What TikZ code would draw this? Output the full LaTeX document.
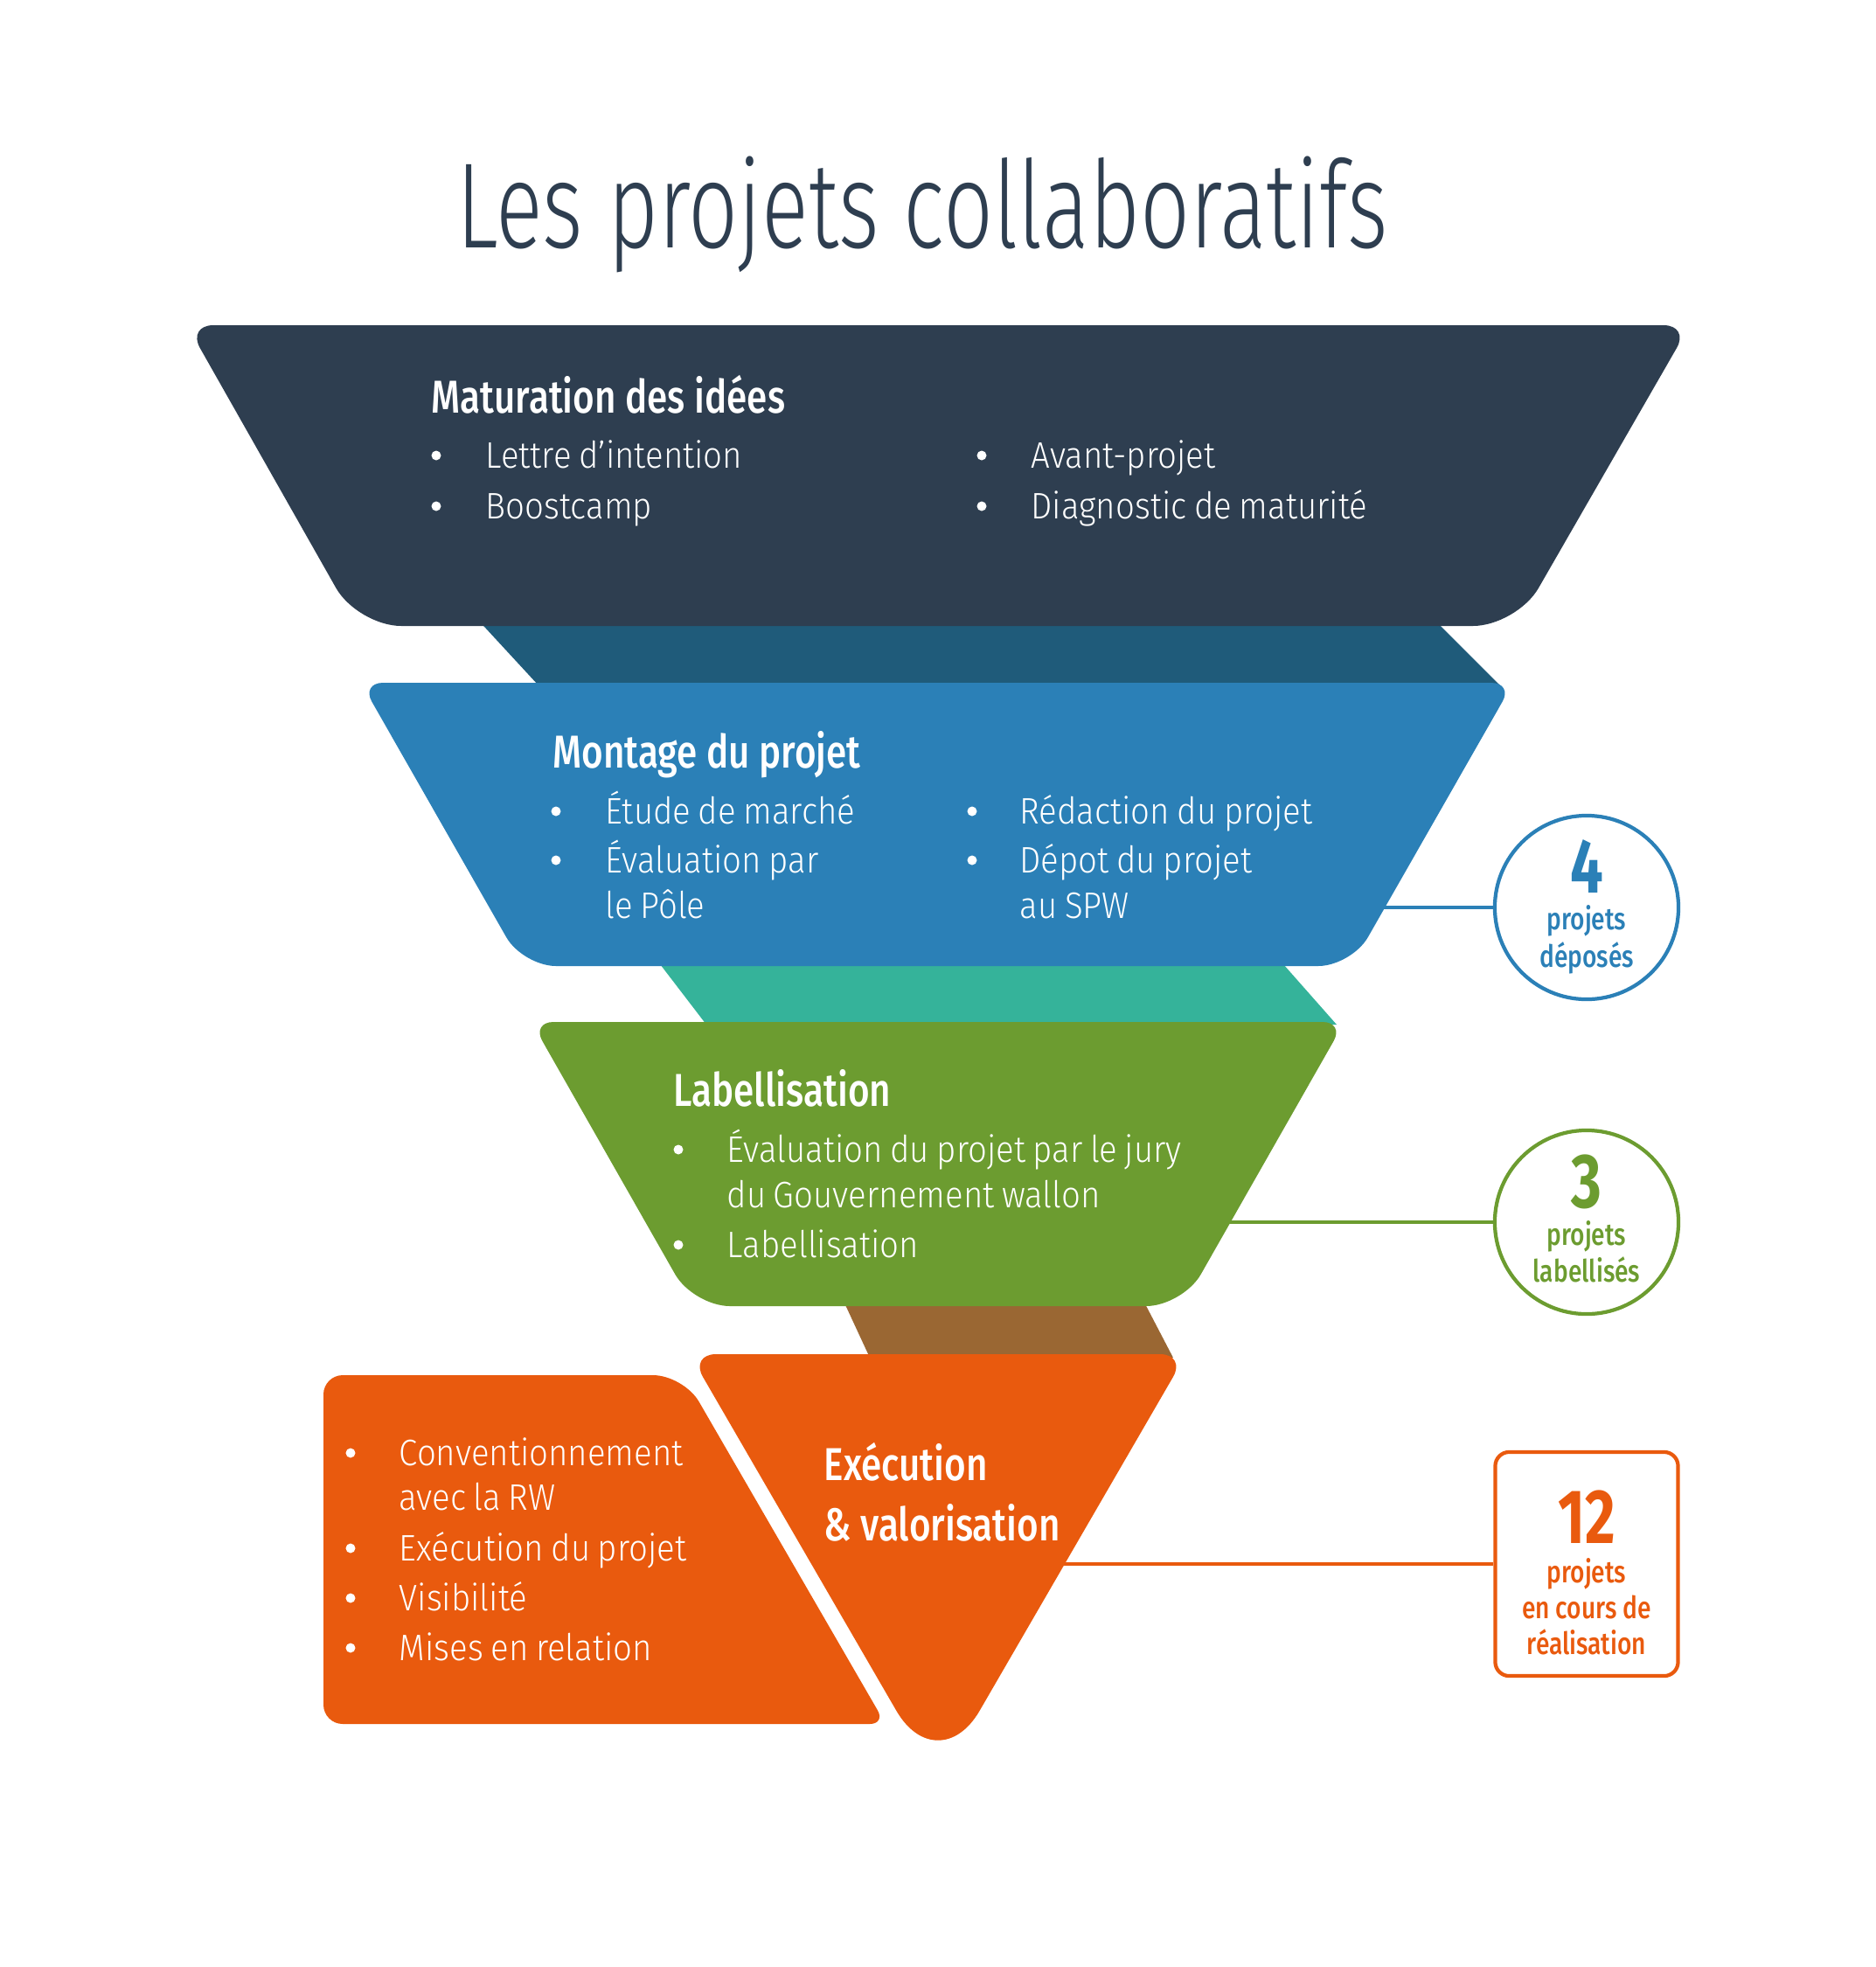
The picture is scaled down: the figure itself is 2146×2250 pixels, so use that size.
\documentclass[tikz,border=0pt]{standalone}
\usepackage{fontspec}
\setmainfont{Fira Sans Light}[FakeStretch=0.91, WordSpace=0.8]
\newfontfamily\titlefont{Fira Sans Light}[FakeStretch=0.72]
\newfontfamily\headfont{Fira Sans Medium}[FakeStretch=0.8]
\newfontfamily\numfont{Fira Sans Bold}[FakeStretch=0.76]
\usetikzlibrary{calc, positioning}

\definecolor{navy}{HTML}{2E3E50}
\definecolor{deepteal}{HTML}{1F5B7A}
\definecolor{stepblue}{HTML}{2B80B7}
\definecolor{teal}{HTML}{35B39A}
\definecolor{stepgreen}{HTML}{6C9C30}
\definecolor{brown}{HTML}{9A6733}
\definecolor{steporange}{HTML}{E95A0E}

\tikzstyle{bodytext} = [anchor=base west, inner sep=0pt, text=white,
    font=\fontsize{12}{14}\selectfont]
\tikzstyle{headtext} = [anchor=base west, inner sep=0pt, text=white,
    font=\headfont\fontsize{15}{18}\selectfont]
\tikzstyle{bulletdot} = [circle, fill=white, inner sep=0pt, minimum size=0.11cm]
\tikzstyle{statcircle} = [circle, draw, line width=1.2pt, minimum size=2.1cm, inner sep=0pt]
\tikzstyle{statbox} = [rectangle, rounded corners=0.16cm, draw, line width=1.2pt,
    minimum width=2.09cm, minimum height=2.56cm, inner sep=0pt]
\tikzstyle{statnum} = [anchor=base, inner sep=0pt, font=\numfont\fontsize{25}{30}\selectfont]
\tikzstyle{statlabel} = [anchor=base, inner sep=0pt, font=\headfont\fontsize{10}{12}\selectfont]
\tikzstyle{link} = [line width=1pt]

% rounded corner at #2, coming from #1, going on to #3, inset #4
\newcommand{\rndcorner}[4]{-- ($(#2)!#4!(#1)$)
    .. controls ($(#2)!0.45*#4!(#1)$) and ($(#2)!0.45*#4!(#3)$) .. ($(#2)!#4!(#3)$)}
% colour, top y, top left x, top right x, bottom y, bottom left x, bottom right x, insets
\newcommand{\funnelpiece}[9]{%
    \coordinate (tl) at (#3,#2); \coordinate (tr) at (#4,#2);
    \coordinate (br) at (#7,#5); \coordinate (bl) at (#6,#5);
    \fill[#1] ($(tl)!0.5!(bl)$) \rndcorner{bl}{tl}{tr}{#8} \rndcorner{tl}{tr}{br}{#8}
        \rndcorner{tr}{br}{bl}{#9} \rndcorner{br}{bl}{tl}{#9} -- cycle;}

\begin{document}
\begin{tikzpicture}[x=0.01cm, y=-0.01cm]
    \useasboundingbox (0,0) rectangle (2146,2250);
    % Title
    \node[anchor=base, inner sep=0pt, text=navy, font=\titlefont\fontsize{39.5}{44}\selectfont]
        (title) at (1055,283) {Les projets collaboratifs};

    % Necks between the steps
    \fill[deepteal] (544,706) -- (1638,706) -- (1716,784) -- (616,784) -- cycle;
    \fill[teal] (749,1095) -- (1461,1095) -- (1529,1172) -- (808,1172) -- cycle;
    \fill[brown] (963,1484) -- (1306,1484) -- (1342,1553) -- (995,1553) -- cycle;

    % Steps
    \funnelpiece{navy}{372}{214}{1933}{716}{409}{1735}{0.3cm}{0.5cm}
    \funnelpiece{stepblue}{781}{413}{1731}{1105}{598}{1546}{0.25cm}{0.38cm}
    \funnelpiece{stepgreen}{1169}{608}{1538}{1494}{793}{1353}{0.25cm}{0.42cm}
    \coordinate (xtl) at (789,1549); \coordinate (xtr) at (1357,1549);
    \coordinate (xtip) at (1073,2039);
    \fill[steporange] ($(xtl)!0.5!(xtip)$) \rndcorner{xtip}{xtl}{xtr}{0.3cm}
        \rndcorner{xtl}{xtr}{xtip}{0.3cm} \rndcorner{xtr}{xtip}{xtl}{0.95cm} -- cycle;
    \coordinate (ptl) at (370,1573); \coordinate (ptr) at (782,1573);
    \coordinate (pbr) at (1013,1972); \coordinate (pbl) at (370,1972);
    \fill[steporange] ($(ptl)!0.5!(pbl)$) \rndcorner{pbl}{ptl}{ptr}{0.22cm}
        \rndcorner{ptl}{ptr}{pbr}{0.35cm} \rndcorner{ptr}{pbr}{pbl}{0.18cm}
        \rndcorner{pbr}{pbl}{ptl}{0.22cm} -- cycle;

    % Maturation des idees
    \node[headtext] (maturation) at (493,472) {Maturation des idées};
    \node[bulletdot] at (499,521) {};
    \node[bodytext] (lettre) at (555,535) {Lettre d’intention};
    \node[bulletdot] at (499,579) {};
    \node[bodytext] (boost) at (555,593) {Boostcamp};
    \node[bulletdot] at (1123,521) {};
    \node[bodytext] (avant) at (1179,535) {Avant-projet};
    \node[bulletdot] at (1123,579) {};
    \node[bodytext] (diag) at (1179,593) {Diagnostic de maturité};

    % Montage du projet
    \node[headtext] (montage) at (632,878) {Montage du projet};
    \node[bulletdot] at (636,928) {};
    \node[bodytext] (etude) at (692,942) {Étude de marché};
    \node[bulletdot] at (636,984) {};
    \node[bodytext] (evalpole) at (692,998) {Évaluation par};
    \node[bodytext] (pole) at (692,1050) {le Pôle};
    \node[bulletdot] at (1112,928) {};
    \node[bodytext] (redac) at (1166,942) {Rédaction du projet};
    \node[bulletdot] at (1112,984) {};
    \node[bodytext] (depot) at (1166,998) {Dépot du projet};
    \node[bodytext] (spw) at (1166,1050) {au SPW};

    % Labellisation
    \node[headtext] (label) at (770,1265) {Labellisation};
    \node[bulletdot] at (776,1315) {};
    \node[bodytext] (jury) at (831,1329) {Évaluation du projet par le jury};
    \node[bodytext] (gouv) at (831,1381) {du Gouvernement wallon};
    \node[bulletdot] at (776,1424) {};
    \node[bodytext] (labelitem) at (831,1438) {Labellisation};

    % Execution & valorisation
    \node[headtext] (exec) at (942,1693) {Exécution};
    \node[headtext] (valo) at (942,1762) {\& valorisation};
    \node[bulletdot] at (401,1662) {};
    \node[bodytext] (conv) at (456,1676) {Conventionnement};
    \node[bodytext] (rw) at (456,1727) {avec la RW};
    \node[bulletdot] at (401,1771) {};
    \node[bodytext] (execitem) at (456,1785) {Exécution du projet};
    \node[bulletdot] at (401,1828) {};
    \node[bodytext] (visib) at (456,1842) {Visibilité};
    \node[bulletdot] at (401,1885) {};
    \node[bodytext] (mises) at (456,1899) {Mises en relation};

    % Counters
    \node[statcircle, draw=stepblue] (deposes) at (1815,1038) {};
    \node[statnum, text=stepblue] at (1815,1021) {4};
    \node[statlabel, text=stepblue] at (1815,1063) {projets};
    \node[statlabel, text=stepblue] at (1815,1106) {déposés};
    \node[statcircle, draw=stepgreen] (labellises) at (1815,1398) {};
    \node[statnum, text=stepgreen] at (1815,1381) {3};
    \node[statlabel, text=stepgreen] at (1815,1424) {projets};
    \node[statlabel, text=stepgreen] at (1815,1466) {labellisés};
    \node[statbox, draw=steporange] (encours) at (1815,1789) {};
    \node[statnum, text=steporange] at (1815,1765) {12};
    \node[statlabel, text=steporange] at (1815,1810) {projets};
    \node[statlabel, text=steporange] at (1815,1851) {en cours de};
    \node[statlabel, text=steporange] at (1815,1892) {réalisation};

    % Links
    \coordinate (fromblue) at (1575,1038);
    \coordinate (fromgreen) at (1400,1398);
    \coordinate (fromorange) at (1212,1789);
    \draw[link, stepblue] (fromblue) -- (deposes);
    \draw[link, stepgreen] (fromgreen) -- (labellises);
    \draw[link, steporange] (fromorange) -- (encours);
\end{tikzpicture}
\end{document}
